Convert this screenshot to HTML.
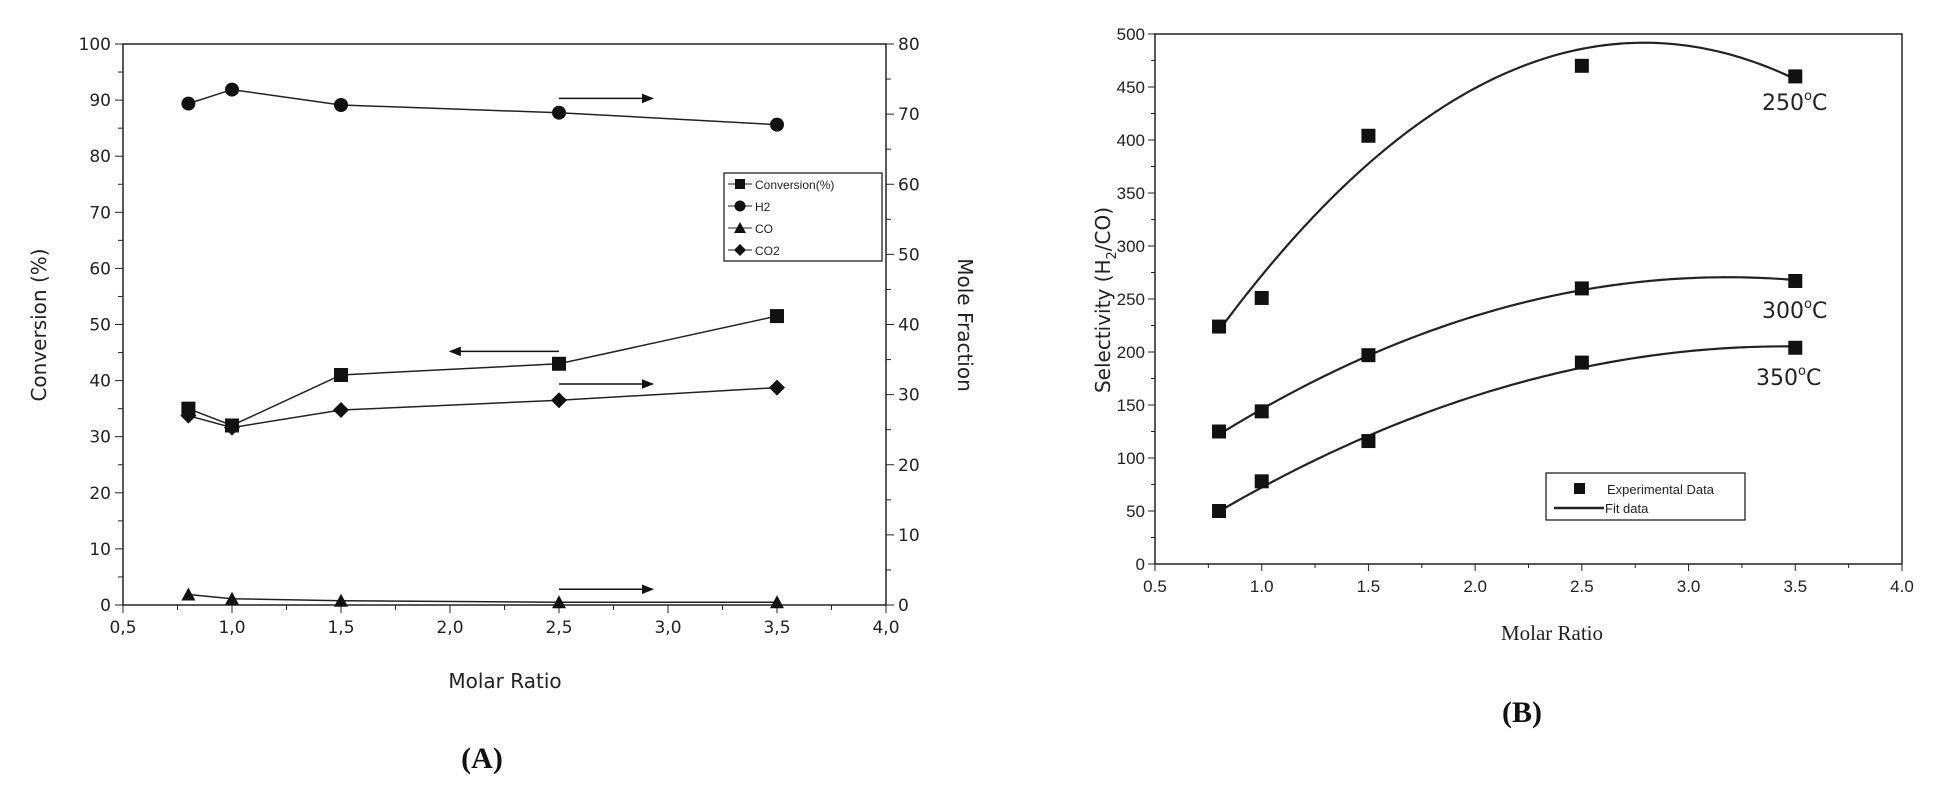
<!DOCTYPE html>
<html><head><meta charset="utf-8">
<style>
html,body{margin:0;padding:0;background:#fff;}
svg{display:block;font-family:"DejaVu Sans","Liberation Sans",sans-serif;}
</style></head>
<body>
<svg id="s" width="1958" height="792" viewBox="0 0 1958 792" xmlns="http://www.w3.org/2000/svg">
<defs>
<marker id="ar" viewBox="0 0 10 10" refX="9" refY="5" markerWidth="8" markerHeight="8" orient="auto-start-reverse"><path d="M0,1 L10,5 L0,9 z" fill="#111"/></marker>
</defs>
<g id="g"></g>
<text x="505" y="688" font-size="20" text-anchor="middle" fill="#222">Molar Ratio</text>
<text transform="translate(46,325) rotate(-90)" font-size="20" text-anchor="middle" fill="#222">Conversion (%)</text>
<text transform="translate(958,325) rotate(90)" font-size="20" text-anchor="middle" fill="#222">Mole Fraction</text>
<text x="482" y="768" font-size="30" font-weight="bold" text-anchor="middle" font-family="Liberation Serif,serif" fill="#111">(A)</text>
<rect x="724" y="173" width="158" height="88" fill="#fff" stroke="#222" stroke-width="1.3"/>
<g font-size="12" fill="#222" font-family="Liberation Sans Narrow,Liberation Sans,sans-serif">
<line x1="728" y1="184" x2="752" y2="184" stroke="#222"/><rect x="735" y="179" width="10" height="10" fill="#111"/><text x="755" y="189">Conversion(%)</text>
<line x1="728" y1="206" x2="752" y2="206" stroke="#222"/><circle cx="740" cy="206" r="5.5" fill="#111"/><text x="755" y="211">H2</text>
<line x1="728" y1="228" x2="752" y2="228" stroke="#222"/><path d="M734,233 L740,222 L746,233 z" fill="#111"/><text x="755" y="233">CO</text>
<line x1="728" y1="250" x2="752" y2="250" stroke="#222"/><path d="M740,244 L746,250 L740,256 L734,250 z" fill="#111"/><text x="755" y="255">CO2</text>
</g>
<text x="1552" y="640" font-size="21" text-anchor="middle" font-family="Liberation Serif,serif" fill="#222">Molar Ratio</text>
<text transform="translate(1110,300) rotate(-90)" font-size="20" text-anchor="middle" fill="#222">Selectivity (H<tspan font-size="13" dy="6">2</tspan><tspan dy="-6">/CO)</tspan></text>
<text x="1522" y="722" font-size="30" font-weight="bold" text-anchor="middle" font-family="Liberation Serif,serif" fill="#111">(B)</text>
<text x="1762" y="110" font-size="22" fill="#222">250<tspan font-size="13" dy="-10">o</tspan><tspan dy="10">C</tspan></text>
<text x="1762" y="318" font-size="22" fill="#222">300<tspan font-size="13" dy="-10">o</tspan><tspan dy="10">C</tspan></text>
<text x="1756" y="385" font-size="22" fill="#222">350<tspan font-size="13" dy="-10">o</tspan><tspan dy="10">C</tspan></text>
<rect x="1546" y="473" width="199" height="47" fill="#fff" stroke="#222" stroke-width="1.3"/>
<rect x="1574" y="483" width="11" height="11" fill="#111"/>
<text x="1607" y="494" font-size="13" fill="#222" font-family="Liberation Sans Narrow,Liberation Sans,sans-serif">Experimental Data</text>
<line x1="1554" y1="508" x2="1604" y2="508" stroke="#222" stroke-width="2.5"/>
<text x="1605" y="513" font-size="13" fill="#222" font-family="Liberation Sans Narrow,Liberation Sans,sans-serif">Fit data</text>
</svg>
<script>
const NS="http://www.w3.org/2000/svg",g=document.getElementById('g');
function el(t,a,txt){const e=document.createElementNS(NS,t);for(const k in a)e.setAttribute(k,a[k]);if(txt!==undefined)e.textContent=txt;g.appendChild(e);return e;}
const AL=123,AR=886,AT=44,AB=605;
const ax=v=>AL+(v-0.5)/3.5*(AR-AL), ayl=v=>AB-v/100*(AB-AT), ayr=v=>AB-v/80*(AB-AT);
el('rect',{x:AL,y:AT,width:AR-AL,height:AB-AT,fill:'none',stroke:'#222','stroke-width':1.5});
for(let i=0;i<=20;i++){const v=i*5,y=ayl(v),maj=i%2==0;el('line',{x1:AL-(maj?8:5),y1:y,x2:AL,y2:y,stroke:'#222'});if(maj)el('text',{x:AL-12,y:y+6,'font-size':17,'text-anchor':'end',fill:'#222'},String(v));}
for(let i=0;i<=16;i++){const v=i*5,y=ayr(v),maj=i%2==0;el('line',{x1:AR,y1:y,x2:AR+(maj?8:5),y2:y,stroke:'#222'});if(maj)el('text',{x:AR+12,y:y+6,'font-size':17,fill:'#222'},String(v));}
for(let i=0;i<=14;i++){const v=0.5+i*0.25,x=ax(v),maj=i%2==0;el('line',{x1:x,y1:AB,x2:x,y2:AB+(maj?8:5),stroke:'#222'});if(maj)el('text',{x:x,y:AB+28,'font-size':17,'text-anchor':'middle',fill:'#222'},v.toFixed(1).replace('.',','));}
const X=[0.8,1.0,1.5,2.5,3.5];
function series(ys,f,m){el('polyline',{points:X.map((x,i)=>ax(x)+','+f(ys[i])).join(' '),fill:'none',stroke:'#222','stroke-width':1.5});
X.forEach((x,i)=>{const cx=ax(x),cy=f(ys[i]);
if(m=='s')el('rect',{x:cx-7,y:cy-7,width:14,height:14,fill:'#111'});
if(m=='c')el('circle',{cx,cy,r:7,fill:'#111'});
if(m=='t')el('path',{d:`M${cx-7},${cy+6} L${cx},${cy-7} L${cx+7},${cy+6} z`,fill:'#111'});
if(m=='d')el('path',{d:`M${cx},${cy-8} L${cx+8},${cy} L${cx},${cy+8} L${cx-8},${cy} z`,fill:'#111'});});}
series([35,32,41,43,51.5],ayl,'s');
series([71.5,73.5,71.3,70.2,68.5],ayr,'c');
series([27,25.3,27.8,29.2,31],ayr,'d');
series([1.5,0.9,0.6,0.4,0.4],ayr,'t');
function arrow(x1,x2,y){el('line',{x1:ax(x1),y1:y,x2:ax(x2),y2:y,stroke:'#111','stroke-width':1.5,'marker-end':'url(#ar)'});}
arrow(2.5,2.93,ayl(90.3));arrow(2.5,2.0,ayl(45.2));arrow(2.5,2.93,ayl(39.4));arrow(2.5,2.93,ayl(2.8));
const BL=1155,BR=1902,BT=34,BB=564;
const bx=v=>BL+(v-0.5)/3.5*(BR-BL), by=v=>BB-v/500*(BB-BT);
el('rect',{x:BL,y:BT,width:BR-BL,height:BB-BT,fill:'none',stroke:'#222','stroke-width':1.5});
for(let i=0;i<=20;i++){const v=i*25,y=by(v),maj=i%2==0;el('line',{x1:BL-(maj?7:4),y1:y,x2:BL,y2:y,stroke:'#222'});if(maj)el('text',{x:BL-10,y:y+6,'font-size':17,'text-anchor':'end',fill:'#222','font-family':'Liberation Sans Narrow,Liberation Sans,sans-serif'},String(v));}
for(let i=0;i<=14;i++){const v=0.5+i*0.25,x=bx(v),maj=i%2==0;el('line',{x1:x,y1:BB,x2:x,y2:BB+(maj?7:4),stroke:'#222'});if(maj)el('text',{x:x,y:BB+28,'font-size':17,'text-anchor':'middle',fill:'#222','font-family':'Liberation Sans Narrow,Liberation Sans,sans-serif'},v.toFixed(1));}
function fit(pts){
let S=[0,0,0,0,0],T=[0,0,0];pts.forEach(([x,y])=>{for(let k=0;k<5;k++)S[k]+=x**k;for(let k=0;k<3;k++)T[k]+=y*x**k;});
const M=[[S[0],S[1],S[2],T[0]],[S[1],S[2],S[3],T[1]],[S[2],S[3],S[4],T[2]]];
for(let i=0;i<3;i++){for(let j=i+1;j<3;j++){const f=M[j][i]/M[i][i];for(let k=i;k<4;k++)M[j][k]-=f*M[i][k];}}
const c=[0,0,0];for(let i=2;i>=0;i--){let s=M[i][3];for(let k=i+1;k<3;k++)s-=M[i][k]*c[k];c[i]=s/M[i][i];}return x=>c[0]+c[1]*x+c[2]*x*x;}
function curve(data,ctrl){const f=fit(ctrl);let p=[];for(let x=0.8;x<=3.5001;x+=0.02)p.push(bx(x)+','+by(f(x)));
el('polyline',{points:p.join(' '),fill:'none',stroke:'#222','stroke-width':2.2});
X.forEach((x,i)=>el('rect',{x:bx(x)-7,y:by(data[i])-7,width:14,height:14,fill:'#111'}));}
curve([224,251,404,470,460],[[0.8,220],[1.5,378],[2.0,450],[2.75,490],[3.5,458]]);
curve([125,144,197,260,267],[[0.8,122],[1.5,197],[2.5,258],[3.5,268]]);
curve([50,78,116,190,204],[[0.8,50],[1.5,120],[2.5,186],[3.5,205]]);
</script>
</body></html>
